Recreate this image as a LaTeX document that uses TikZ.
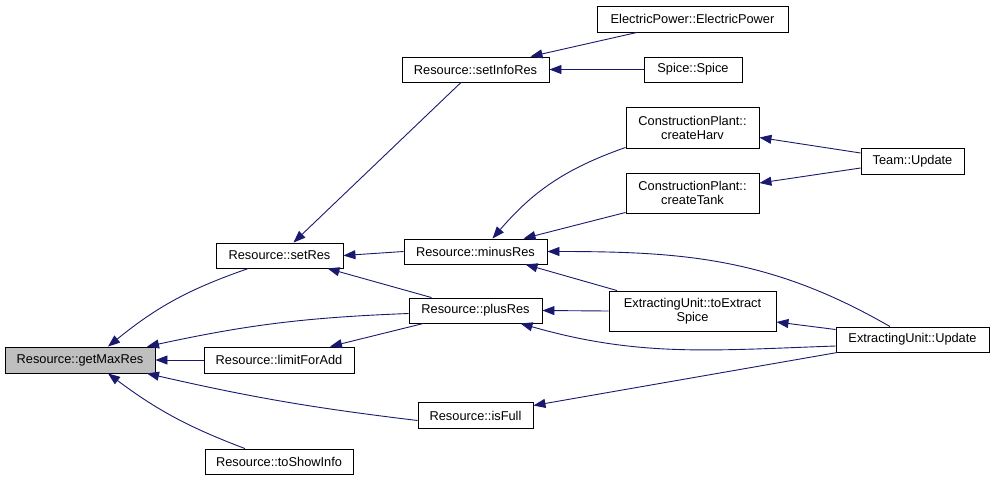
\documentclass[tikz,border=0pt]{standalone}
\usepackage{fontspec}
\setmainfont{Liberation Sans}
\usetikzlibrary{arrows.meta}
\definecolor{edgecol}{HTML}{191970}
\definecolor{hilite}{HTML}{BFBFBF}
\tikzset{
  box/.style={draw=black, line width=0.9pt, fill=white, inner sep=0pt, align=center,
    font=\fontsize{12.8}{14}\selectfont},
  edge/.style={draw=edgecol, line width=0.9pt, -{Triangle[length=12pt,width=9pt]}},
}
\begin{document}
\begin{tikzpicture}[x=1pt,y=1pt]
\fill[white] (0,0) rectangle (995,-480);
\useasboundingbox (0,0) rectangle (995,-480);

\node[box, fill=hilite, minimum width=150pt, minimum height=26pt] (gmr) at (80,-360) {Resource::getMaxRes};
\node[box, minimum width=127pt, minimum height=25pt] (setres) at (279.5,-255.5) {Resource::setRes};
\node[box, minimum width=150pt, minimum height=26pt] (limit) at (279,-360) {Resource::limitForAdd};
\node[box, minimum width=148pt, minimum height=25pt] (show) at (279,-461.5) {Resource::toShowInfo};
\node[box, minimum width=147pt, minimum height=25pt] (setinfo) at (475.5,-69.5) {Resource::setInfoRes};
\node[box, minimum width=191pt, minimum height=26pt] (ep) at (692.5,-19) {ElectricPower::ElectricPower};
\node[box, minimum width=98pt, minimum height=25pt] (spice) at (693,-69.5) {Spice::Spice};
\node[box, minimum width=133pt, minimum height=41pt] (harv) at (692.5,-127.5) {ConstructionPlant::\\createHarv};
\node[box, minimum width=133pt, minimum height=40pt] (tank) at (692.5,-193) {ConstructionPlant::\\createTank};
\node[box, minimum width=143pt, minimum height=25pt] (minus) at (475.5,-251.5) {Resource::minusRes};
\node[box, minimum width=133pt, minimum height=25pt] (plus) at (475.5,-310.5) {Resource::plusRes};
\node[box, minimum width=167pt, minimum height=40pt] (extr) at (692.5,-311) {ExtractingUnit::toExtract\\Spice};
\node[box, minimum width=103pt, minimum height=26pt] (team) at (912.5,-161) {Team::Update};
\node[box, minimum width=153pt, minimum height=25pt] (euu) at (912.5,-339.5) {ExtractingUnit::Update};
\node[box, minimum width=115pt, minimum height=26pt] (full) at (475.5,-415.5) {Resource::isFull};

% edges into getMaxRes
\draw[edge] ([xshift=-31pt]setres.south) to[bend right=10] ([xshift=28pt]gmr.north);
\draw[edge] ([yshift=-3pt]plus.west) to[bend right=5] ([xshift=67pt]gmr.north);
\draw[edge] (limit.west) -- (gmr.east);
\draw[edge] ([yshift=-5pt]full.west) to[bend left=3] ([xshift=67pt]gmr.south);
\draw[edge] ([xshift=-34pt]show.north) to[bend left=8] ([xshift=28pt]gmr.south);

% edges into setRes
\draw[edge] ([xshift=-14.5pt]setinfo.south) -- ([xshift=14pt]setres.north);
\draw[edge] (minus.west) -- (setres.east);
\draw[edge] ([xshift=-44pt]plus.north) -- ([xshift=48pt]setres.south);

% plus -> limit
\draw[edge] ([xshift=-52pt]plus.south) -- ([xshift=51pt]limit.north);

% edges into setInfoRes
\draw[edge] ([xshift=-55.5pt]ep.south) -- ([xshift=55pt]setinfo.north);
\draw[edge] (spice.west) -- (setinfo.east);

% edges into minusRes
\draw[edge] ([yshift=1pt]harv.south west) to[bend right=15] ([xshift=17pt]minus.north);
\draw[edge] ([yshift=1pt]tank.south west) -- ([xshift=48pt]minus.north);
\draw[edge] ([xshift=-75.5pt]extr.north) -- ([xshift=50pt]minus.south);
\draw[edge] ([xshift=-22.5pt]euu.north) to[out=150,in=0] (minus.east);

% edges into plusRes
\draw[edge] (extr.west) -- (plus.east);
\draw[edge] ([yshift=-6.5pt]euu.west) to[out=182,in=-16] ([xshift=45pt]plus.south);

% other
\draw[edge] ([yshift=10pt]euu.west) -- ([yshift=-11pt]extr.east);
\draw[edge] ([xshift=2pt]euu.south west) -- ([yshift=10pt]full.east);
\draw[edge] ([yshift=8pt]team.west) -- ([yshift=-10pt]harv.east);
\draw[edge] ([yshift=-7pt]team.west) -- ([yshift=10pt]tank.east);
\end{tikzpicture}
\end{document}
